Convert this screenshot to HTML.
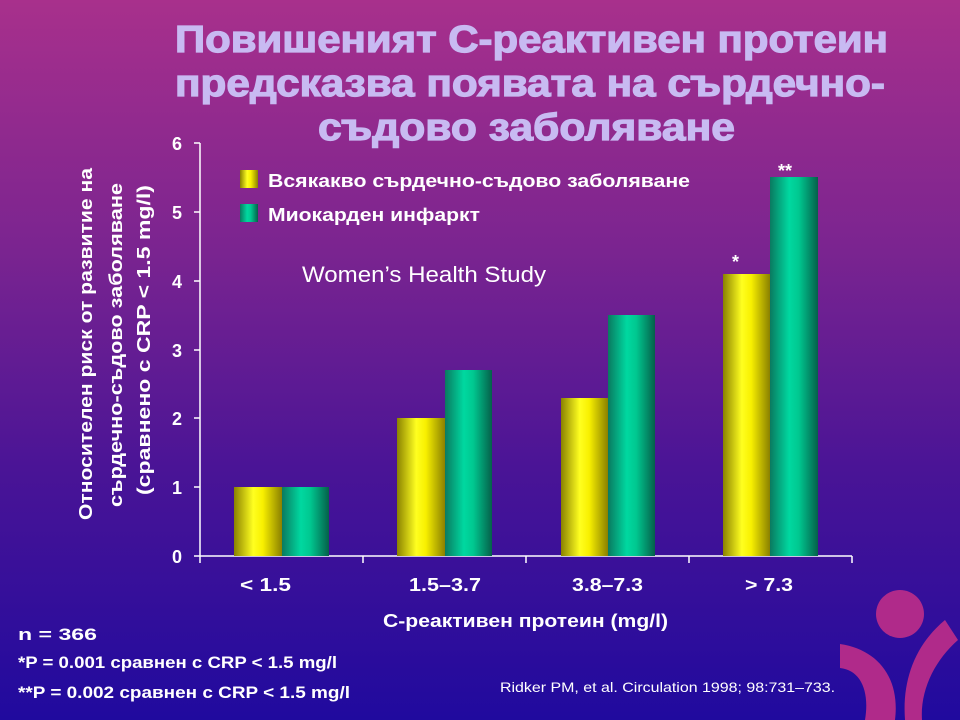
<!DOCTYPE html><html><head><meta charset="utf-8"><style>
body{margin:0;width:960px;height:720px;overflow:hidden;background:linear-gradient(180deg,#a8308c 0%,#7a2490 35%,#4a1496 65%,#200a9e 100%);font-family:"Liberation Sans",sans-serif;position:relative}
</style></head><body>
<svg width="960" height="720" style="position:absolute;left:0;top:0">
<defs>
<linearGradient id="y" x1="0" x2="1"><stop offset="0" stop-color="#8a8200"/><stop offset=".4" stop-color="#ffff20"/><stop offset=".6" stop-color="#f8f000"/><stop offset="1" stop-color="#8a8000"/></linearGradient>
<linearGradient id="g" x1="0" x2="1"><stop offset="0" stop-color="#0a7a60"/><stop offset=".4" stop-color="#00d8a0"/><stop offset=".6" stop-color="#00c890"/><stop offset="1" stop-color="#05604a"/></linearGradient>
</defs>
<g fill="#c8baf2" font-weight="bold" font-size="38" stroke="#c8baf2" stroke-width="1.2">
<text x="175" y="52" textLength="713" lengthAdjust="spacingAndGlyphs">Повишеният С-реактивен протеин</text>
<text x="175" y="96" textLength="710" lengthAdjust="spacingAndGlyphs">предсказва появата на сърдечно-</text>
<text x="318" y="140" textLength="417" lengthAdjust="spacingAndGlyphs">съдово заболяване</text>
</g>
<g stroke="#fff" stroke-width="1.5">
<line x1="200" y1="143" x2="200" y2="563"/><line x1="194" y1="556" x2="852" y2="556"/>
<line x1="194" y1="143" x2="200" y2="143"/><line x1="194" y1="212" x2="200" y2="212"/><line x1="194" y1="281" x2="200" y2="281"/><line x1="194" y1="350" x2="200" y2="350"/><line x1="194" y1="418" x2="200" y2="418"/><line x1="194" y1="487" x2="200" y2="487"/>
<line x1="363" y1="556" x2="363" y2="563"/><line x1="526" y1="556" x2="526" y2="563"/><line x1="689" y1="556" x2="689" y2="563"/><line x1="852" y1="556" x2="852" y2="563"/>
</g>
<rect x="234" y="487" width="48" height="69" fill="url(#y)"/><rect x="282" y="487" width="47" height="69" fill="url(#g)"/>
<rect x="397" y="418" width="48" height="138" fill="url(#y)"/><rect x="445" y="370" width="47" height="186" fill="url(#g)"/>
<rect x="561" y="398" width="47" height="158" fill="url(#y)"/><rect x="608" y="315" width="47" height="241" fill="url(#g)"/>
<rect x="723" y="274" width="47" height="282" fill="url(#y)"/><rect x="770" y="177" width="48" height="379" fill="url(#g)"/>
<rect x="240" y="170" width="18" height="18" fill="url(#y)"/><rect x="240" y="204" width="18" height="18" fill="url(#g)"/>
<g fill="#fff" font-weight="bold" font-size="18" text-anchor="end">
<text x="182" y="150">6</text><text x="182" y="219">5</text><text x="182" y="288">4</text><text x="182" y="357">3</text><text x="182" y="425">2</text><text x="182" y="494">1</text><text x="182" y="563">0</text></g>
<g fill="#fff" font-weight="bold" font-size="18">
<text x="240" y="591" textLength="51" lengthAdjust="spacingAndGlyphs">&lt; 1.5</text>
<text x="409" y="591" textLength="72" lengthAdjust="spacingAndGlyphs">1.5–3.7</text>
<text x="572" y="591" textLength="71" lengthAdjust="spacingAndGlyphs">3.8–7.3</text>
<text x="745" y="591" textLength="48" lengthAdjust="spacingAndGlyphs">&gt; 7.3</text>
<text x="383" y="627" textLength="285" lengthAdjust="spacingAndGlyphs">С-реактивен протеин (mg/l)</text>
<text x="732" y="268">*</text><text x="778" y="177">**</text>
<text transform="translate(92,520) rotate(-90)" textLength="352" lengthAdjust="spacingAndGlyphs">Относителен риск от развитие на</text>
<text transform="translate(122,507) rotate(-90)" textLength="324" lengthAdjust="spacingAndGlyphs">сърдечно-съдово заболяване</text>
<text transform="translate(150,495) rotate(-90)" textLength="310" lengthAdjust="spacingAndGlyphs">(сравнено с  CRP &lt; 1.5 mg/l)</text>
</g>
<g fill="#fff" font-weight="bold" font-size="18">
<text x="268" y="187" textLength="422" lengthAdjust="spacingAndGlyphs">Всякакво сърдечно-съдово заболяване</text>
<text x="268" y="221" textLength="212" lengthAdjust="spacingAndGlyphs">Миокарден инфаркт</text>
<text x="18" y="640" font-size="17" textLength="79" lengthAdjust="spacingAndGlyphs">n = 366</text>
<text x="18" y="668" font-size="17" textLength="319" lengthAdjust="spacingAndGlyphs">*P = 0.001 сравнен с CRP &lt; 1.5 mg/l</text>
<text x="18" y="698" font-size="17" textLength="332" lengthAdjust="spacingAndGlyphs">**P = 0.002 сравнен с  CRP &lt; 1.5 mg/l</text></g>
<text x="302" y="282" fill="#fff" font-size="22" textLength="244" lengthAdjust="spacingAndGlyphs">Women’s Health Study</text>
<text x="500" y="692" fill="#fff" font-size="14" textLength="335" lengthAdjust="spacingAndGlyphs">Ridker PM, et al. Circulation 1998; 98:731–733.</text>
<g fill="#b02a8a"><circle cx="900" cy="614" r="24"/>
<path d="M840 644 C880 650 900 680 895 720 L865 720 C870 690 860 670 840 668Z"/>
<path d="M945 620 L958 640 C935 660 920 690 922 720 L905 720 C902 680 915 645 945 620Z"/></g>
</svg>
</body></html>
